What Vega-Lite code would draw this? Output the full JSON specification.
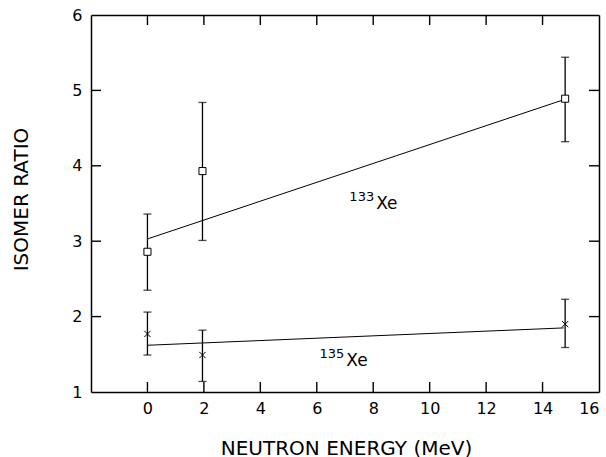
{
  "$schema": "https://vega.github.io/schema/vega-lite/v6.json",
  "autosize": "none",
  "padding": {"left": 91, "top": 15, "right": 7, "bottom": 65},
  "width": 508,
  "height": 377,
  "background": "white",
  "config": {
    "view": {"stroke": null},
    "axis": {
      "domainColor": "black", "domainWidth": 1.5,
      "tickColor": "transparent", "tickWidth": 1, "tickSize": -10, "ticks": true,
      "labelColor": "black", "labelFont": "DejaVu Sans", "labelFontSize": 16,
      "titleColor": "black", "titleFont": "DejaVu Sans", "titleFontSize": 20, "titleFontWeight": "normal",
      "grid": false
    }
  },
  "datasets": {
    "points": [
      {"isotope": "133Xe", "energy": 0, "ratio": 2.86, "lo": 2.35, "hi": 3.36},
      {"isotope": "133Xe", "energy": 1.95, "ratio": 3.93, "lo": 3.01, "hi": 4.84},
      {"isotope": "133Xe", "energy": 14.8, "ratio": 4.89, "lo": 4.32, "hi": 5.44},
      {"isotope": "135Xe", "energy": 0, "ratio": 1.77, "lo": 1.49, "hi": 2.06},
      {"isotope": "135Xe", "energy": 1.95, "ratio": 1.49, "lo": 1.14, "hi": 1.82},
      {"isotope": "135Xe", "energy": 14.8, "ratio": 1.9, "lo": 1.59, "hi": 2.23}
    ],
    "fits": [
      {"isotope": "133Xe", "energy": 0, "ratio": 3.03},
      {"isotope": "133Xe", "energy": 14.7, "ratio": 4.87},
      {"isotope": "135Xe", "energy": 0, "ratio": 1.62},
      {"isotope": "135Xe", "energy": 14.75, "ratio": 1.85}
    ],
    "labels": [
      {"mass": "133", "element": "Xe", "energy": 8.07, "ratio": 3.49},
      {"mass": "135", "element": "Xe", "energy": 7.01, "ratio": 1.405}
    ],
    "xticks": [
      {"value": 0}, {"value": 2}, {"value": 4}, {"value": 6},
      {"value": 8}, {"value": 10}, {"value": 12}, {"value": 14}
    ],
    "yticks": [
      {"value": 2}, {"value": 3}, {"value": 4}, {"value": 5}
    ]
  },
  "layer": [
    {
      "data": {"name": "fits"},
      "mark": {"type": "line", "color": "black", "strokeWidth": 1},
      "encoding": {
        "x": {"field": "energy", "type": "quantitative",
              "scale": {"domain": [-2, 16], "nice": false, "zero": false},
              "axis": {"orient": "bottom", "values": [0, 2, 4, 6, 8, 10, 12, 14, 16], "title": "NEUTRON ENERGY (MeV)", "tickSize": -10, "labelPadding": 18, "titleX": 255, "titleY": 56, "titleBaseline": "middle"}},
        "y": {"field": "ratio", "type": "quantitative",
              "scale": {"domain": [1, 6], "nice": false, "zero": false},
              "axis": {"orient": "left", "values": [1, 2, 3, 4, 5, 6], "title": "ISOMER RATIO", "tickSize": -10, "labelPadding": 19, "titleX": -70, "titleY": 184, "titleBaseline": "middle", "titleAngle": -90}},
        "detail": {"field": "isotope"}
      }
    },
    {
      "data": {"name": "points"},
      "mark": {"type": "errorbar", "color": "black", "ticks": {"size": 8, "color": "black", "thickness": 1.3}, "rule": {"strokeWidth": 1.3}},
      "encoding": {
        "x": {"field": "energy", "type": "quantitative", "axis": {"orient": "top", "values": [0, 2, 4, 6, 8, 10, 12, 14], "tickSize": -10, "labels": false, "title": null}},
        "y": {"field": "lo", "type": "quantitative", "axis": {"orient": "right", "values": [2, 3, 4, 5], "tickSize": -10, "labels": false, "title": null}},
        "y2": {"field": "hi"}
      }
    },
    {
      "data": {"name": "xticks"},
      "mark": {"type": "tick", "orient": "vertical", "color": "black", "size": 10, "thickness": 1.4, "yOffset": -5, "opacity": 1},
      "encoding": {
        "x": {"field": "value", "type": "quantitative", "axis": null},
        "y": {"datum": 1, "type": "quantitative", "axis": null}
      }
    },
    {
      "data": {"name": "xticks"},
      "mark": {"type": "tick", "orient": "vertical", "color": "black", "size": 10, "thickness": 1.4, "yOffset": 5, "opacity": 1},
      "encoding": {
        "x": {"field": "value", "type": "quantitative", "axis": null},
        "y": {"datum": 6, "type": "quantitative", "axis": null}
      }
    },
    {
      "data": {"name": "yticks"},
      "mark": {"type": "tick", "orient": "horizontal", "color": "black", "size": 10, "thickness": 1.4, "xOffset": 5, "opacity": 1},
      "encoding": {
        "x": {"datum": -2, "type": "quantitative", "axis": null},
        "y": {"field": "value", "type": "quantitative", "axis": null}
      }
    },
    {
      "data": {"name": "yticks"},
      "mark": {"type": "tick", "orient": "horizontal", "color": "black", "size": 10, "thickness": 1.4, "xOffset": -5, "opacity": 1},
      "encoding": {
        "x": {"datum": 16, "type": "quantitative", "axis": null},
        "y": {"field": "value", "type": "quantitative", "axis": null}
      }
    },
    {
      "data": {"name": "points"},
      "transform": [{"filter": "datum.isotope == '133Xe'"}],
      "mark": {"type": "point", "shape": "square", "filled": true, "fill": "white", "stroke": "black", "strokeWidth": 1, "size": 50, "opacity": 1},
      "encoding": {
        "x": {"field": "energy", "type": "quantitative", "axis": null},
        "y": {"field": "ratio", "type": "quantitative", "axis": null}
      }
    },
    {
      "data": {"name": "points"},
      "transform": [{"filter": "datum.isotope == '135Xe'"}],
      "mark": {"type": "point", "shape": "M-1,-1L1,1M1,-1L-1,1", "filled": false, "stroke": "black", "strokeWidth": 1, "size": 40, "opacity": 1},
      "encoding": {
        "x": {"field": "energy", "type": "quantitative", "axis": null},
        "y": {"field": "ratio", "type": "quantitative", "axis": null}
      }
    },
    {
      "data": {"name": "labels"},
      "mark": {"type": "text", "font": "DejaVu Sans", "fontSize": 13, "color": "black", "align": "right", "baseline": "middle", "dx": -1, "dy": -7},
      "encoding": {
        "x": {"field": "energy", "type": "quantitative", "axis": null},
        "y": {"field": "ratio", "type": "quantitative", "axis": null},
        "text": {"field": "mass"}
      }
    },
    {
      "data": {"name": "labels"},
      "mark": {"type": "text", "font": "DejaVu Sans", "fontSize": 17, "color": "black", "align": "left", "baseline": "middle", "dx": 1},
      "encoding": {
        "x": {"field": "energy", "type": "quantitative", "axis": null},
        "y": {"field": "ratio", "type": "quantitative", "axis": null},
        "text": {"field": "element"}
      }
    }
  ],
  "resolve": {"axis": {"x": "independent", "y": "independent"}}
}
